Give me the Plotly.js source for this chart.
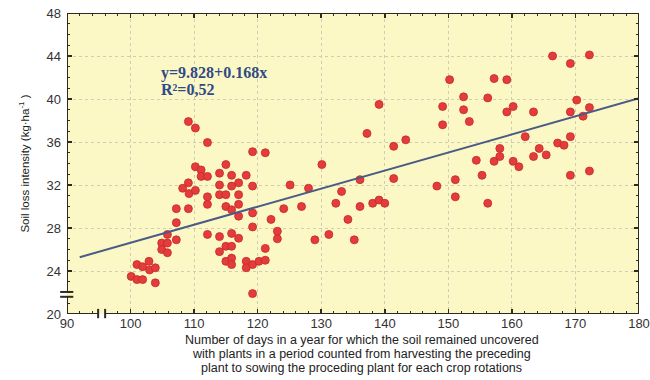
<!DOCTYPE html>
<html>
<head>
<meta charset="utf-8">
<script src="https://cdn.plot.ly/plotly-3.0.1.min.js"></script>
<style>html,body{margin:0;padding:0;background:#fff;}#chart{width:650px;height:380px;}</style>
</head>
<body>
<div id="chart"></div>
<script>
// Observed points: days uncovered (x) and soil loss intensity (y)
const daysX = [
  100.1,101.0,101.9,101.0,101.9,102.9,103.0,103.9,103.9,
  104.9,105.8,104.9,105.8,105.8,107.2,107.2,107.2,109.1,
  109.1,110.2,112.1,110.2,111.1,111.1,112.1,109.1,108.2,109.2,110.2,112.1,112.1,112.1,
  115.0,114.0,115.9,118.2,114.0,117.0,115.9,119.2,114.0,115.0,117.0,115.0,117.0,115.9,117.0,
  119.2,119.2,122.1,114.0,115.9,117.0,115.0,115.9,114.0,121.2,115.0,115.9,115.9,118.2,118.2,
  119.2,120.2,121.2,119.2,119.2,121.2,
  123.1,123.1,125.1,124.1,126.9,128.0,129.0,130.1,131.2,132.3,133.2,134.2,135.2,136.1,136.1,
  137.2,138.1,139.1,140.0,139.1,141.4,141.4,143.3,148.2,149.1,149.1,
  150.2,151.1,151.1,152.4,152.4,153.3,154.4,155.3,156.2,156.2,157.2,157.2,158.1,158.1,
  159.2,159.2,160.2,160.2,161.1,162.1,163.4,163.4,164.3,165.4,166.4,167.2,168.2,
  169.2,169.2,169.2,169.2,170.2,171.2,172.2,172.2,172.2
];
const lossY = [
  23.5,23.2,23.2,24.6,24.4,24.9,24.1,24.3,22.9,
  26.6,26.6,26.0,25.7,27.4,26.9,28.5,29.8,29.8,
  37.9,37.3,35.95,33.7,33.4,32.8,32.8,32.2,31.7,31.2,31.5,30.9,30.2,27.4,
  33.9,33.1,32.9,32.9,32.0,32.2,31.9,31.9,31.1,31.1,31.1,30.0,30.2,29.7,29.1,
  29.4,28.1,28.8,27.2,27.5,27.05,26.3,26.3,25.8,26.1,24.9,25.2,24.6,24.9,24.3,
  24.6,24.9,25.0,21.9,35.1,35.0,
  27.7,27.0,32.0,29.8,30.0,31.7,26.9,33.9,27.4,30.3,31.4,28.8,26.9,30.0,32.5,
  36.8,30.3,30.6,30.3,39.5,35.6,32.6,36.2,31.9,39.3,37.6,
  41.8,32.5,30.9,40.2,39.0,37.9,34.3,32.9,40.1,30.3,41.9,34.2,34.65,35.4,
  41.8,38.8,39.3,34.2,33.7,36.5,38.8,34.65,35.4,34.8,44.0,35.9,35.7,
  43.3,38.8,36.5,32.9,39.9,38.4,44.1,39.2,33.3
];
// Regression line y = 9.828 + 0.168x
const fitIntercept = 9.828;
const fitSlope = 0.168;
const fitX = [92, 180];
const fitY = fitX.map(v => fitIntercept + fitSlope * v);

const xTickVals = [90,100,110,120,130,140,150,160,170,180];
const yTickVals = [20,24,28,32,36,40,44,48];
const eqLines = ["y=9.828+0.168x", "R²=0,52"];
const xTitleLines = [
  "Number of days in a year for which the soil remained uncovered",
  "with plants in a period counted from harvesting the preceding",
  "plant to sowing the proceding plant for each crop rotations"
];
const yTitle = "Soil loss intensity (kg·ha<sup>-1</sup> )";

const axisCol = "#2b2b22";
const lw = 2;
const shapes = [
  {type:"line", xref:"x", yref:"y", x0:90, x1:90, y0:20, y1:21.6, line:{color:axisCol,width:lw}},
  {type:"line", xref:"x", yref:"y", x0:90, x1:90, y0:22.05, y1:48, line:{color:axisCol,width:lw}},
  {type:"line", xref:"x", yref:"y", x0:90, x1:94.9, y0:20, y1:20, line:{color:axisCol,width:lw}},
  {type:"line", xref:"x", yref:"y", x0:96.0, x1:180, y0:20, y1:20, line:{color:axisCol,width:lw}},
  {type:"line", xref:"x", yref:"y", x0:90, x1:180, y0:48, y1:48, line:{color:axisCol,width:lw}},
  {type:"line", xref:"x", yref:"y", x0:180, x1:180, y0:20, y1:48, line:{color:axisCol,width:lw}},
  {type:"line", xref:"paper", yref:"y", x0:-0.012, x1:0.011, y0:22.05, y1:22.05, line:{color:axisCol,width:lw}},
  {type:"line", xref:"paper", yref:"y", x0:-0.012, x1:0.011, y0:21.6, y1:21.6, line:{color:axisCol,width:lw}},
  {type:"line", xref:"x", yref:"paper", x0:94.9, x1:94.9, y0:-0.014, y1:0.017, line:{color:axisCol,width:lw}},
  {type:"line", xref:"x", yref:"paper", x0:96.0, x1:96.0, y0:-0.014, y1:0.017, line:{color:axisCol,width:lw}}
];

const data = [
  {x: daysX, y: lossY, type:"scatter", mode:"markers",
   marker:{color:"#e43b3b", size:8, line:{color:"#c42a2a", width:0.8}}, hoverinfo:"x+y"},
  {x: fitX, y: fitY, type:"scatter", mode:"lines",
   line:{color:"#4b5b86", width:2}, hoverinfo:"skip"}
];

const xTitleYs = [-0.0864, -0.1329, -0.1794];
const annotations = [
  {x:104.5, y:42.45, xref:"x", yref:"y", text:"<b>"+eqLines[0]+"</b>", showarrow:false,
   xanchor:"left", yanchor:"middle", font:{family:"Liberation Serif, Times New Roman, serif", size:16, color:"#2f4a86"}},
  {x:104.5, y:40.9, xref:"x", yref:"y", text:"<b>"+eqLines[1]+"</b>", showarrow:false,
   xanchor:"left", yanchor:"middle", font:{family:"Liberation Serif, Times New Roman, serif", size:16, color:"#2f4a86"}}
];
xTitleLines.forEach((t, i) => annotations.push({
  x:0.515, y:xTitleYs[i], xref:"paper", yref:"paper", text:t, showarrow:false,
  xanchor:"center", yanchor:"middle", font:{size:12.5, color:"#222"}
}));

const layout = {
  width:650, height:380,
  margin:{l:67, r:11, t:13, b:66},
  paper_bgcolor:"#ffffff",
  plot_bgcolor:"#fcf8c6",
  showlegend:false,
  font:{family:"Liberation Sans, Arial, sans-serif", color:"#333"},
  xaxis:{
    range:[90,180], tickvals:xTickVals, ticktext:xTickVals.map(String),
    showline:false, zeroline:false, mirror:"allticks",
    ticks:"inside", ticklen:5, tickwidth:1.5, tickcolor:axisCol,
    minor:{dtick:2, ticks:"inside", ticklen:3, tickwidth:1, tickcolor:axisCol, showgrid:false},
    showgrid:true, gridcolor:"#cfcdb4", griddash:"dot", gridwidth:1,
    tickfont:{size:13, color:"#333"}
  },
  yaxis:{
    range:[20,48], tickvals:yTickVals, ticktext:yTickVals.map(String),
    showline:false, zeroline:false, mirror:"allticks",
    ticks:"inside", ticklen:5, tickwidth:1.5, tickcolor:axisCol,
    minor:{dtick:1, ticks:"inside", ticklen:3, tickwidth:1, tickcolor:axisCol, showgrid:false},
    showgrid:true, gridcolor:"#cfcdb4", griddash:"dot", gridwidth:1,
    ticklabelstandoff:5,
    tickfont:{size:13, color:"#333"},
    title:{text:yTitle, font:{size:11.5, color:"#222"}, standoff:14}
  },
  shapes: shapes,
  annotations: annotations
};

Plotly.newPlot("chart", data, layout, {displayModeBar:false, staticPlot:true});
</script>
</body>
</html>
